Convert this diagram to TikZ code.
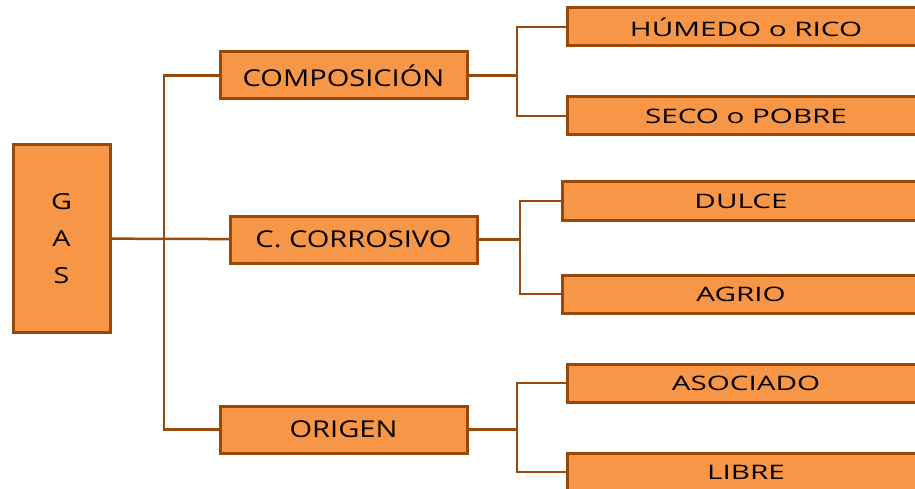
\documentclass[tikz,border=0pt]{standalone}
\usepackage{fontspec}
\setmainfont{Open Sans}
\definecolor{boxfill}{HTML}{F79646}
\definecolor{boxedge}{HTML}{984807}
\definecolor{linkc}{HTML}{9A4A10}
\newcommand\midtxt[1]{\scalebox{1.35}[1.08]{\fontsize{21.5}{21.5}\selectfont #1}}
\newcommand\leaftxt[1]{\scalebox{1.6}[1.08]{\fontsize{18.5}{18.5}\selectfont #1}}
\newcommand\gastxt[1]{\scalebox{1.4}[1.08]{\fontsize{20.5}{20.5}\selectfont #1}}
\begin{document}
\begin{tikzpicture}[x=1pt,y=-1pt,
  box/.style={draw=boxedge,fill=boxfill,line width=3pt,inner sep=0pt,text=black},
  midbox/.style={box,minimum width=247pt,minimum height=47pt},
  leafbox/.style={box,minimum width=358pt,minimum height=38pt},
  link/.style={draw=linkc,line width=2.5pt}]
\useasboundingbox (0,0) rectangle (915,489);
\clip (0,0) rectangle (915,489);
\draw[link] (61.5,238.5) -- (353.5,239.5);
\node[box,minimum width=97pt,minimum height=187pt,align=center] (gas) at (61.5,238.5) {\gastxt{G}\\[20pt]\gastxt{A}\\[20pt]\gastxt{S}};
\node[midbox] (comp) at (343.5,75.5) {\midtxt{COMPOSICIÓN}};
\node[midbox] (corr) at (353.5,239.5) {\midtxt{C. CORROSIVO}};
\node[midbox] (orig) at (343.5,429.5) {\midtxt{ORIGEN}};
\node[leafbox] (hum) at (746,27) {\leaftxt{HÚMEDO o RICO}};
\node[leafbox] (seco) at (746,116) {\leaftxt{SECO o POBRE}};
\node[leafbox] (dulce) at (741,201) {\leaftxt{DULCE}};
\node[leafbox] (agrio) at (741,294) {\leaftxt{AGRIO}};
\node[leafbox] (asoc) at (746,383) {\leaftxt{ASOCIADO}};
\node[leafbox] (libre) at (746,472) {\leaftxt{LIBRE}};
\coordinate (trunk) at (164,0);
\coordinate (j1) at (517,0);
\coordinate (j2) at (520,0);
\coordinate (j3) at (517,0);
\draw[link] (comp.west) -| (trunk |- gas.east) |- (orig.west);
\draw[link] (comp.east) -- (j1 |- comp.east);
\draw[link] (hum.west) -| (j1 |- comp.east) |- (seco.west);
\draw[link] (corr.east) -- (j2 |- corr.east);
\draw[link] (dulce.west) -| (j2 |- corr.east) |- (agrio.west);
\draw[link] (orig.east) -- (j3 |- orig.east);
\draw[link] (asoc.west) -| (j3 |- orig.east) |- (libre.west);
\end{tikzpicture}
\end{document}
